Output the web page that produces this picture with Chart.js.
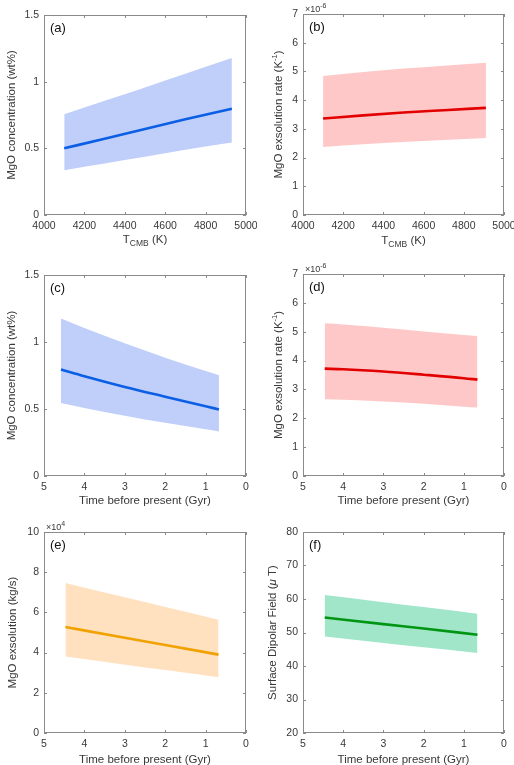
<!DOCTYPE html>
<html>
<head>
<meta charset="utf-8">
<script src="https://cdn.jsdelivr.net/npm/chart.js@4.4.1/dist/chart.umd.min.js"></script>
<style>
  body { margin: 0; background: #fff; width: 514px; height: 765px; position: relative; overflow: hidden; }
  canvas { position: absolute; }
</style>
</head>
<body>
<canvas id="pa" width="257" height="255" style="left:0;top:0"></canvas>
<canvas id="pb" width="257" height="255" style="left:257px;top:0"></canvas>
<canvas id="pc" width="257" height="255" style="left:0;top:255px"></canvas>
<canvas id="pd" width="257" height="255" style="left:257px;top:255px"></canvas>
<canvas id="pe" width="257" height="255" style="left:0;top:510px"></canvas>
<canvas id="pf" width="257" height="255" style="left:257px;top:510px"></canvas>
<script>
// (a) MgO concentration (wt%) vs T_CMB (K)
const tcmbA = [4100, 4300, 4500, 4700, 4930];
const concA = [0.50, 0.572, 0.645, 0.718, 0.797];
const concAHigh = [0.755, 0.856, 0.957, 1.059, 1.177];
const concALow = [0.336, 0.386, 0.436, 0.49, 0.544];

// (b) MgO exsolution rate (x1e-6 K^-1) vs T_CMB (K)
const tcmbB = [4100, 4300, 4500, 4700, 4910];
const rateB = [3.36, 3.47, 3.57, 3.65, 3.73];
const rateBHigh = [4.84, 4.98, 5.10, 5.20, 5.30];
const rateBLow = [2.37, 2.46, 2.54, 2.61, 2.68];

// (c) MgO concentration (wt%) vs time before present (Gyr)
const timeC = [4.58, 4, 3, 2, 1, 0.67];
const concC = [0.795, 0.745, 0.665, 0.592, 0.52, 0.497];
const concCHigh = [1.176, 1.105, 0.99, 0.883, 0.783, 0.752];
const concCLow = [0.545, 0.508, 0.45, 0.397, 0.348, 0.332];

// (d) MgO exsolution rate (x1e-6 K^-1) vs time
const timeD = [4.46, 4, 3, 2, 1, 0.66];
const rateD = [3.72, 3.70, 3.62, 3.51, 3.39, 3.34];
const rateDHigh = [5.29, 5.25, 5.14, 5.01, 4.89, 4.85];
const rateDLow = [2.66, 2.64, 2.58, 2.50, 2.40, 2.37];

// (e) MgO exsolution (x1e4 kg/s) vs time
const timeE = [4.47, 3, 2, 0.68];
const fluxE = [5.27, 4.74, 4.38, 3.90];
const fluxEHigh = [7.46, 6.75, 6.27, 5.64];
const fluxELow = [3.80, 3.40, 3.13, 2.77];

// (f) surface dipolar field (uT) vs time
const timeF = [4.46, 3, 2, 0.66];
const fieldF = [54.5, 52.5, 51.2, 49.35];
const fieldFHigh = [61.2, 59.05, 57.6, 55.6];
const fieldFLow = [48.8, 46.9, 45.6, 43.9];

const FONT = '"Liberation Sans", Arial, Helvetica, sans-serif';
const TXT = '#383838';
const BOX = '#8a8a8a';
const TS = 11.5; // axis title size

function xy(xs, ys) { return xs.map((x, i) => ({x: x, y: ys[i]})); }

// text with sub/superscripts: parts = [text, size, dy, italic]
function richText(ctx, parts, x, y, rot) {
  let w = 0;
  parts.forEach(p => {
    ctx.font = (p[3] ? 'italic ' : '') + p[1] + 'px ' + FONT;
    w += ctx.measureText(p[0]).width;
  });
  ctx.save();
  ctx.translate(x, y);
  if (rot) ctx.rotate(-Math.PI / 2);
  ctx.fillStyle = TXT;
  ctx.textBaseline = rot ? 'middle' : 'alphabetic';
  ctx.textAlign = 'left';
  let cx = -w / 2;
  parts.forEach(p => {
    ctx.font = (p[3] ? 'italic ' : '') + p[1] + 'px ' + FONT;
    ctx.fillText(p[0], cx, p[2]);
    cx += ctx.measureText(p[0]).width;
  });
  ctx.restore();
}

const framePlugin = {
  id: 'frame',
  afterDraw(chart, args, o) {
    const ctx = chart.ctx;
    const a = chart.chartArea;
    const xs = chart.scales.x, ys = chart.scales.y;
    ctx.save();
    ctx.strokeStyle = BOX;
    ctx.lineWidth = 1;
    ctx.strokeRect(a.left + 0.5, a.top + 0.5, a.right - a.left - 1, a.bottom - a.top - 1);
    ctx.beginPath();
    xs.ticks.forEach(t => {
      const px = Math.round(xs.getPixelForValue(t.value)) + 0.5;
      ctx.moveTo(px, a.bottom); ctx.lineTo(px, a.bottom - 3);
      ctx.moveTo(px, a.top); ctx.lineTo(px, a.top + 3);
    });
    ys.ticks.forEach(t => {
      const py = Math.round(ys.getPixelForValue(t.value)) + 0.5;
      ctx.moveTo(a.left, py); ctx.lineTo(a.left + 3, py);
      ctx.moveTo(a.right, py); ctx.lineTo(a.right - 3, py);
    });
    ctx.stroke();
    // panel letter
    ctx.fillStyle = '#111';
    ctx.font = '13px ' + FONT;
    ctx.textBaseline = 'alphabetic';
    ctx.fillText(o.letter, a.left + 6, a.top + 17);
    // exponent label
    if (o.exp) {
      ctx.fillStyle = TXT;
      ctx.font = '9px ' + FONT;
      ctx.fillText('\u00d710', a.left + 2, a.top - 2);
      const w = ctx.measureText('\u00d710').width;
      ctx.font = '7px ' + FONT;
      ctx.fillText(o.exp, a.left + 2 + w, a.top - 6);
    }
    ctx.restore();
    richText(ctx, o.yTitle, o.yTitleX, (a.top + a.bottom) / 2, true);
    richText(ctx, o.xTitle, (a.left + a.right) / 2, o.xTitleY, false);
  }
};

function panel(id, d) {
  const common = { pointRadius: 0, cubicInterpolationMode: 'monotone' };
  new Chart(document.getElementById(id), {
    type: 'line',
    data: {
      datasets: [
        Object.assign({ data: xy(d.x, d.y), borderColor: d.line, borderWidth: 2.6, fill: false, order: 0 }, common),
        Object.assign({ data: xy(d.x, d.hi), borderWidth: 0, borderColor: 'rgba(0,0,0,0)', backgroundColor: d.band, fill: '+1', order: 1 }, common),
        Object.assign({ data: xy(d.x, d.lo), borderWidth: 0, borderColor: 'rgba(0,0,0,0)', fill: false, order: 2 }, common)
      ]
    },
    options: {
      responsive: false,
      animation: false,
      layout: { padding: { top: d.top, right: d.right, left: 0, bottom: 0 } },
      plugins: {
        legend: { display: false },
        tooltip: { enabled: false },
        frame: { letter: d.letter, exp: d.exp, yTitle: d.yTitle, yTitleX: d.yTitleX, xTitle: d.xTitle, xTitleY: d.xTitleY }
      },
      scales: {
        x: {
          type: 'linear', min: d.xMin, max: d.xMax, reverse: d.rev,
          grid: { display: false, drawTicks: false },
          border: { display: false },
          ticks: { stepSize: d.xStep, padding: 5, color: TXT, font: { family: FONT, size: 10.5 }, maxRotation: 0, callback: v => String(v) },
          afterFit: s => { s.height = d.xh; s.paddingLeft = 0; s.paddingRight = 0; }
        },
        y: {
          min: d.yMin, max: d.yMax,
          grid: { display: false, drawTicks: false },
          border: { display: false },
          ticks: { stepSize: d.yStep, padding: 5, color: TXT, font: { family: FONT, size: 10.5 }, callback: v => String(v) },
          afterFit: s => { s.width = d.yw; s.paddingTop = 0; s.paddingBottom = 0; }
        }
      }
    },
    plugins: [framePlugin]
  });
}

const tcmbTitle = [['T', TS, 0], ['CMB', 8.5, 3], [' (K)', TS, 0]];
const timeTitle = [['Time before present (Gyr)', TS, 0]];
const rateTitle = [['MgO exsolution rate (K', TS, 0], ['-1', 7.5, -4], [')', TS, 0]];

const BLUE_LINE = 'rgb(10,95,228)', BLUE_BAND = 'rgb(192,207,250)';
const RED_LINE = 'rgb(226,0,0)', RED_BAND = 'rgb(255,200,200)';
const ORANGE_LINE = 'rgb(242,162,0)', ORANGE_BAND = 'rgb(255,225,192)';
const GREEN_LINE = 'rgb(0,150,20)', GREEN_BAND = 'rgb(162,230,202)';

panel('pa', { x: tcmbA, y: concA, hi: concAHigh, lo: concALow, line: BLUE_LINE, band: BLUE_BAND,
  xMin: 4000, xMax: 5000, xStep: 200, rev: false, yMin: 0, yMax: 1.5, yStep: 0.5,
  top: 15, right: 11, yw: 44, xh: 40, letter: '(a)',
  yTitle: [['MgO concentration (wt%)', TS, 0]], yTitleX: 12, xTitle: tcmbTitle, xTitleY: 243 });

panel('pb', { x: tcmbB, y: rateB, hi: rateBHigh, lo: rateBLow, line: RED_LINE, band: RED_BAND,
  xMin: 4000, xMax: 5000, xStep: 200, rev: false, yMin: 0, yMax: 7, yStep: 1,
  top: 14, right: 10, yw: 46, xh: 40, letter: '(b)', exp: '-6',
  yTitle: rateTitle, yTitleX: 22, xTitle: tcmbTitle, xTitleY: 244 });

panel('pc', { x: timeC, y: concC, hi: concCHigh, lo: concCLow, line: BLUE_LINE, band: BLUE_BAND,
  xMin: 0, xMax: 5, xStep: 1, rev: true, yMin: 0, yMax: 1.5, yStep: 0.5,
  top: 20, right: 11, yw: 44, xh: 34, letter: '(c)',
  yTitle: [['MgO concentration (wt%)', TS, 0]], yTitleX: 12, xTitle: timeTitle, xTitleY: 249 });

panel('pd', { x: timeD, y: rateD, hi: rateDHigh, lo: rateDLow, line: RED_LINE, band: RED_BAND,
  xMin: 0, xMax: 5, xStep: 1, rev: true, yMin: 0, yMax: 7, yStep: 1,
  top: 19, right: 10, yw: 46, xh: 34, letter: '(d)', exp: '-6',
  yTitle: rateTitle, yTitleX: 22, xTitle: timeTitle, xTitleY: 249 });

panel('pe', { x: timeE, y: fluxE, hi: fluxEHigh, lo: fluxELow, line: ORANGE_LINE, band: ORANGE_BAND,
  xMin: 0, xMax: 5, xStep: 1, rev: true, yMin: 0, yMax: 10, yStep: 2,
  top: 22, right: 11, yw: 44, xh: 32, letter: '(e)', exp: '4',
  yTitle: [['MgO exsolution (kg/s)', TS, 0]], yTitleX: 13, xTitle: timeTitle, xTitleY: 253 });

panel('pf', { x: timeF, y: fieldF, hi: fieldFHigh, lo: fieldFLow, line: GREEN_LINE, band: GREEN_BAND,
  xMin: 0, xMax: 5, xStep: 1, rev: true, yMin: 20, yMax: 80, yStep: 10,
  top: 22, right: 10, yw: 46, xh: 32, letter: '(f)',
  yTitle: [['Surface Dipolar Field (', TS, 0], ['\u03bc', TS, 0, true], [' T)', TS, 0]], yTitleX: 16, xTitle: timeTitle, xTitleY: 253 });
</script>
</body>
</html>
